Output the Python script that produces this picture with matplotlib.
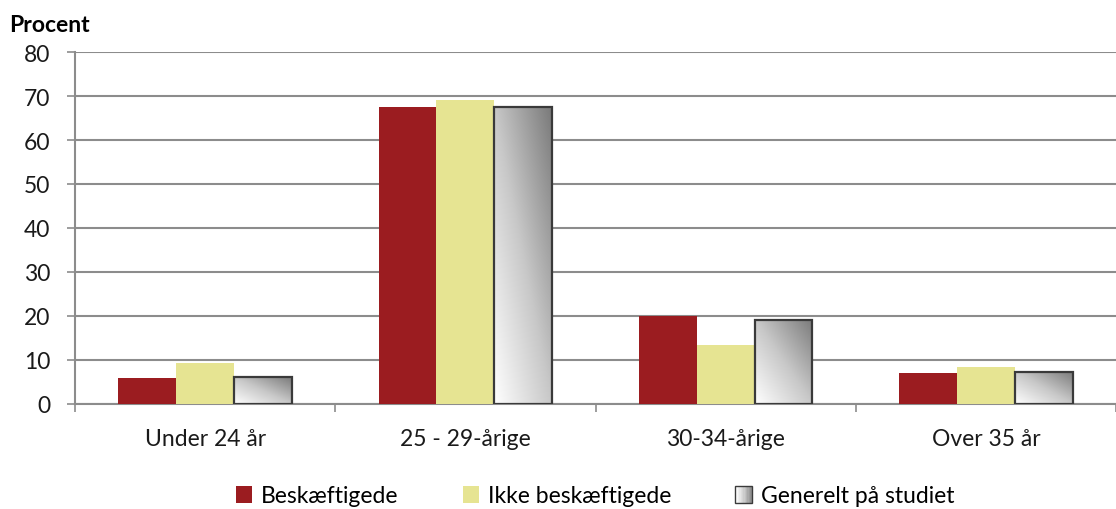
import numpy as np
import matplotlib
matplotlib.use("Agg")
import matplotlib.pyplot as plt
from matplotlib.patches import Rectangle
from matplotlib.legend_handler import HandlerBase
from matplotlib.colors import LinearSegmentedColormap

plt.rcParams['font.family'] = ['Lato', 'DejaVu Sans']

categories = ["Under 24 år", "25 - 29-årige", "30-34-årige", "Over 35 år"]
series_names = ["Beskæftigede", "Ikke beskæftigede", "Generelt på studiet"]
beskaeftigede = [5.8, 67.5, 19.9, 7.0]
ikke_beskaeftigede = [9.3, 69.1, 13.3, 8.4]
generelt = [6.1, 67.5, 19.1, 7.3]
yticks = [0, 10, 20, 30, 40, 50, 60, 70, 80]

red = '#9b1c20'
yellow = '#e6e492'
grid_c = '#8c8c8c'
cmap = LinearSegmentedColormap.from_list('g', ['#ffffff', '#c8c8c8', '#7a7a7a'])
FS = 16.5

fig = plt.figure(figsize=(11.16, 5.10), dpi=100)
ax = fig.add_axes([75/1116, 1-405/510, (1116-75)/1116, (405-53)/510])

x = np.arange(len(categories))
w = 0.667 / 3
ax.bar(x - w, beskaeftigede, w, color=red, zorder=3)
ax.bar(x, ikke_beskaeftigede, w, color=yellow, zorder=3)
gbars = ax.bar(x + w, generelt, w, facecolor='none', edgecolor='#3a3a3a', linewidth=1.6, zorder=5)

# gradient fill for third series
yy, xx = np.mgrid[0:1:200j, 0:1:200j]
grad = (xx + yy) / 2.0
for b in gbars:
    x0, y0 = b.get_x(), b.get_y()
    bw, bh = b.get_width(), b.get_height()
    im = ax.imshow(grad, cmap=cmap, origin='lower', extent=[x0, x0 + bw, y0, y0 + bh],
                   aspect='auto', zorder=4, interpolation='bilinear')
    im.set_clip_path(b)

ax.set_xlim(-0.5, len(categories) - 0.5)
ax.set_ylim(0, 80)
ax.set_yticks(yticks)
ax.set_yticklabels([str(t) for t in yticks], fontsize=FS, color='#1a1a1a')
ax.yaxis.grid(True, color=grid_c, linewidth=1.5, zorder=0)
ax.set_axisbelow(True)
ax.set_xticks(x)
ax.set_xticklabels(categories, fontsize=FS, color='#1a1a1a')
ax.tick_params(axis='x', length=0, pad=17)
ax.set_xticks(np.arange(len(categories) + 1) - 0.5, minor=True)
ax.tick_params(axis='x', which='minor', length=6, color=grid_c, width=1.2)
ax.tick_params(axis='y', length=6, color=grid_c, width=1.2, pad=12)
for s in ['top', 'right']:
    ax.spines[s].set_visible(False)
ax.spines['left'].set_color(grid_c)
ax.spines['left'].set_linewidth(1.5)
ax.spines['bottom'].set_color(grid_c)
ax.spines['bottom'].set_linewidth(1.5)

fig.text(9/1116, 1-25/510, "Procent", fontsize=FS, fontweight='bold', va='center', ha='left')


class GradHandler(HandlerBase):
    def create_artists(self, legend, orig_handle, xdescent, ydescent, width, height, fontsize, trans):
        arts = []
        n = 12
        s = min(width, height)
        x0 = -xdescent + (width - s) / 2
        y0 = -ydescent + (height - s) / 2
        for i in range(n):
            c = cmap(i / (n - 1) * 0.85)
            r = Rectangle((x0 + s * i / n, y0), s / n, s, facecolor=c, edgecolor='none', transform=trans)
            arts.append(r)
        arts.append(Rectangle((x0, y0), s, s, facecolor='none', edgecolor='#3a3a3a', lw=1.0, transform=trans))
        return arts


class SquareHandler(HandlerBase):
    def __init__(self, color):
        super().__init__()
        self.color = color

    def create_artists(self, legend, orig_handle, xdescent, ydescent, width, height, fontsize, trans):
        s = min(width, height)
        x0 = -xdescent + (width - s) / 2
        y0 = -ydescent + (height - s) / 2
        return [Rectangle((x0, y0), s, s, facecolor=self.color, edgecolor='none', transform=trans)]


h1, h2, h3 = object(), object(), object()
leg = fig.legend([h1, h2, h3], series_names, loc='center', bbox_to_anchor=(595/1116, 1-497/510),
                 ncol=3, frameon=False, fontsize=FS, handlelength=0.7, handleheight=0.7,
                 handletextpad=0.4, columnspacing=2.8,
                 handler_map={h1: SquareHandler(red), h2: SquareHandler(yellow), h3: GradHandler()})

fig.savefig('out.png', dpi=100)
